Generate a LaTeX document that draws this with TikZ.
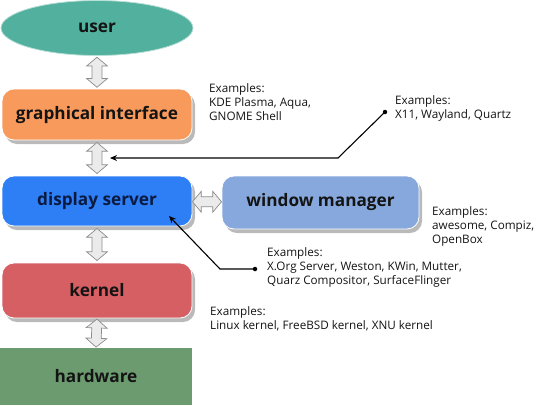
\documentclass[tikz,border=0pt]{standalone}
\usepackage{fontspec}
\setmainfont{Open Sans}
\usetikzlibrary{shapes.geometric,shapes.arrows,shadows,arrows.meta}
\definecolor{cuser}{HTML}{52B09E}
\definecolor{cgi}{HTML}{F89A5C}
\definecolor{cds}{HTML}{2E7EF5}
\definecolor{cwm}{HTML}{86A8DC}
\definecolor{ckern}{HTML}{D55F63}
\definecolor{chw}{HTML}{6B9B6F}
\definecolor{ctext}{HTML}{141414}
\definecolor{cnavy}{HTML}{0A1A40}
\tikzset{
  labelfont/.style={font=\fontsize{17.2}{20}\selectfont\bfseries},
  layerbox/.style={rounded corners=12pt, draw=white, line width=0.8pt,
    labelfont, text=ctext, inner sep=0pt,
    drop shadow={shadow xshift=3pt, shadow yshift=-4pt, opacity=0.45, fill=black!60}},
  fatarrow/.style={double arrow, draw=black!45, fill=black!8, line width=0.7pt,
    minimum width=21pt, inner sep=4.5pt, double arrow head extend=5.5pt,
    double arrow tip angle=100, anchor=center},
  extext/.style={anchor=north west, align=left, inner sep=0pt, text=ctext,
    font=\fontsize{11.7}{14.3}\selectfont},
  pointer/.style={draw=black, line width=1.1pt, -{Stealth[length=7pt,width=6pt]}},
  dot/.style={circle, fill=black, inner sep=0pt, minimum size=4.5pt}
}
\begin{document}
\begin{tikzpicture}[x=1pt,y=-1pt]
\useasboundingbox (0,0) rectangle (540,405);
% layers
\node[ellipse, fill=cuser, draw=white!60!cuser, line width=0.8pt, minimum width=192pt, minimum height=55pt,
  labelfont, text=ctext] (user) at (97,28) {user};
\node[layerbox, fill=cgi, minimum width=190pt, minimum height=51pt] (gi) at (97,114.5) {graphical interface};
\node[layerbox, fill=cds, text=cnavy, minimum width=190pt, minimum height=50pt] (ds) at (97,201) {display server};
\node[layerbox, fill=cwm, minimum width=197pt, minimum height=53pt] (wm) at (320.5,202.5) {window manager};
\node[layerbox, fill=ckern, minimum width=190pt, minimum height=55pt] (kern) at (97,290.5) {kernel};
\node[fill=chw, minimum width=192pt, minimum height=57pt, inner sep=0pt,
  labelfont, text=ctext] (hw) at (96,376.5) {hardware};
% fat arrows
\path (user.south) -- (gi.north) node[midway, sloped, fatarrow, minimum height=30pt] (a1) {};
\path (gi.south) -- (ds.north) node[midway, sloped, fatarrow, minimum height=31pt] (a2) {};
\path (ds.south) -- (kern.north) node[midway, sloped, fatarrow, minimum height=32pt] (a3) {};
\path (kern.south) -- (hw.north) node[midway, sloped, fatarrow, minimum height=28pt] (a4) {};
\path (ds.east) -- (wm.west) node[midway, fatarrow, minimum height=29pt] (a5) {};
% example texts
\node[extext] (ex1) at (209,83) {Examples:\\KDE Plasma, Aqua,\\GNOME Shell};
\node[extext] (ex2) at (395,95) {Examples:\\X11, Wayland, Quartz};
\node[extext] (ex3) at (432,206) {Examples:\\awesome, Compiz,\\OpenBox};
\node[extext] (ex4) at (267,247) {Examples:\\X.Org Server, Weston, KWin, Mutter,\\Quarz Compositor, SurfaceFlinger};
\node[extext] (ex5) at (210,306) {Examples:\\Linux kernel, FreeBSD kernel, XNU kernel};
% pointers
\node[dot] (d1) at (385,112) {};
\coordinate (b1) at (338,158);
\coordinate (t1) at (110,158);
\draw[pointer] (d1.center) -- (b1) -- (t1);
\node[dot] (d2) at (255,269) {};
\coordinate (b2) at (220,269);
\coordinate (t2) at (169,216);
\draw[pointer] (d2.center) -- (b2) -- (t2);
\end{tikzpicture}
\end{document}
